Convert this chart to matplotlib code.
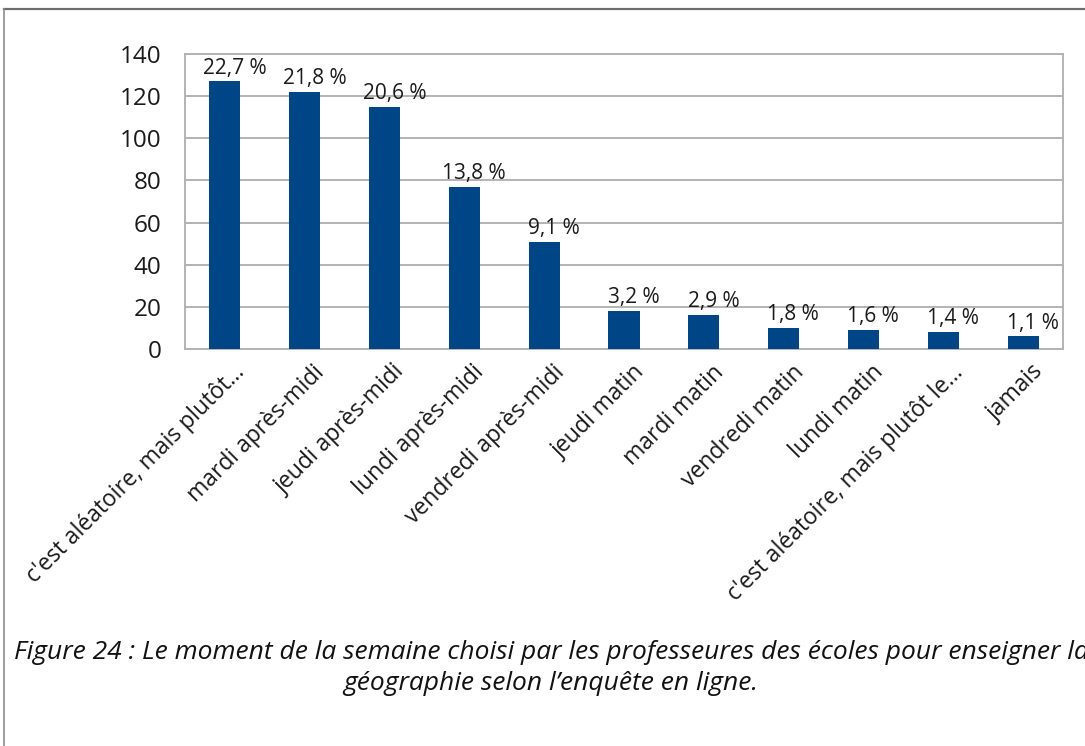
import matplotlib
matplotlib.use("Agg")
import matplotlib.pyplot as plt
import matplotlib.transforms as mtransforms
from matplotlib.lines import Line2D

plt.rcParams['font.family'] = ['Open Sans', 'DejaVu Sans']

# data
categories = ["c'est aléatoire, mais plutôt…", "mardi après-midi", "jeudi après-midi",
              "lundi après-midi", "vendredi après-midi", "jeudi matin", "mardi matin",
              "vendredi matin", "lundi matin", "c'est aléatoire, mais plutôt le…", "jamais"]
counts = [127, 122, 115, 77, 51, 18, 16, 10, 9, 8, 6]
pct_labels = ["22,7 %", "21,8 %", "20,6 %", "13,8 %", "9,1 %", "3,2 %", "2,9 %",
              "1,8 %", "1,6 %", "1,4 %", "1,1 %"]
yticks = [0, 20, 40, 60, 80, 100, 120, 140]
caption = ("Figure 24 : Le moment de la semaine choisi par les professeures des écoles pour enseigner la\n"
           "géographie selon l’enquête en ligne.")

bar_color = "#004586"
grid_color = "#b3b3b3"

fig = plt.figure(figsize=(10.85, 7.46), dpi=100)
ax = fig.add_axes([0.1705, 0.5322, 0.8092, 0.3954])

x = list(range(len(categories)))
bars = ax.bar(x, counts, width=0.39, color=bar_color, zorder=3)

ax.set_xlim(-0.5, len(categories) - 0.5)
ax.set_ylim(0, 140)
ax.set_yticks(yticks)
ax.set_yticklabels([str(t) for t in yticks], fontsize=17.5, color="#1a1a1a")
ax.tick_params(axis="y", length=0, pad=17)
ax.tick_params(axis="x", length=0, pad=4)
ax.yaxis.grid(True, color=grid_color, linewidth=1.4, zorder=0)
for s in ax.spines.values():
    s.set_color(grid_color)
    s.set_linewidth(1.4)

ax.set_xticks(x)
ax.set_xticklabels(categories, rotation=45, ha="right", rotation_mode="anchor",
                   fontsize=16.5, color="#1a1a1a")
# nudge rotated labels so their ends sit just right of each bar
shift = mtransforms.ScaledTranslation(8 / 100, -6 / 100, fig.dpi_scale_trans)
for lab in ax.get_xticklabels():
    lab.set_transform(lab.get_transform() + shift)

for b, lab in zip(bars, pct_labels):
    ax.annotate(lab, (b.get_x() + b.get_width() / 2, b.get_height()),
                xytext=(7, 2), textcoords="offset points", ha="center", va="bottom",
                fontsize=15, color="#1a1a1a")

# frame lines of the document figure
fig.add_artist(Line2D([0.004, 1.0], [1 - 8.5 / 746] * 2, transform=fig.transFigure,
                      color="#6e6e6e", linewidth=1.6))
fig.add_artist(Line2D([4 / 1085] * 2, [1 - 8.5 / 746, 0], transform=fig.transFigure,
                      color="#8c8c8c", linewidth=1.2))

# caption runs past the right edge, as in the source page
fig.text(0.508, 1 - 668 / 746, caption, ha="center", va="center", fontsize=19,
         style="italic", color="#111111", linespacing=1.3)

fig.savefig("out.png", dpi=100, facecolor="white")
